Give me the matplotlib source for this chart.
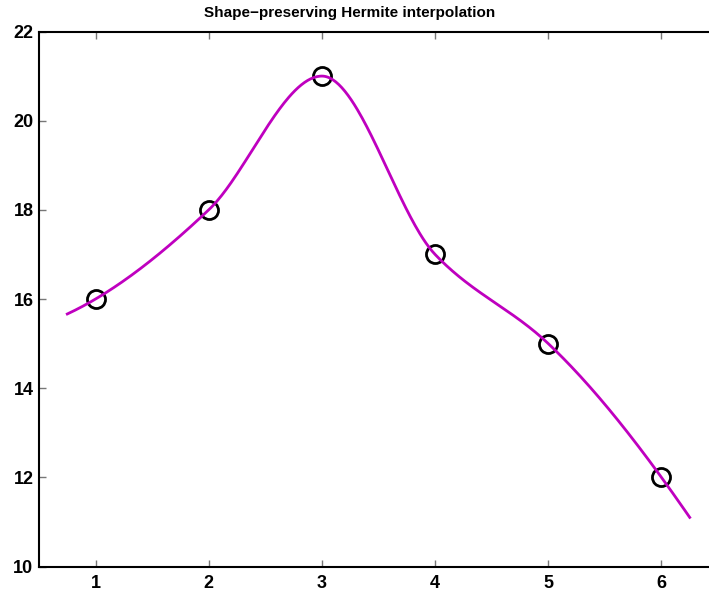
import matplotlib
matplotlib.use('Agg')
import matplotlib.pyplot as plt
import numpy as np

WIDTH = 709
HEIGHT = 595
DPI = 100

TITLE = 'Shape\u2212preserving Hermite interpolation'
x_data = [1, 2, 3, 4, 5, 6]
y_data = [16, 18, 21, 17, 15, 12]
x_ticks = [1, 2, 3, 4, 5, 6]
y_ticks = [10, 12, 14, 16, 18, 20, 22]
X_RANGE = (0.75, 6.25)   # where the curve is evaluated


def pchip_slopes(x, y):
  # MATLAB style pchip derivatives
  h = np.diff(x)
  delta = np.diff(y) / h
  n = len(x)
  d = np.zeros(n)
  for k in range(1, n - 1):
    if delta[k - 1] * delta[k] > 0:
      w1 = 2 * h[k] + h[k - 1]
      w2 = h[k] + 2 * h[k - 1]
      d[k] = (w1 + w2) / (w1 / delta[k - 1] + w2 / delta[k])

  def end_slope(h0, h1, d0, d1):
    s = ((2 * h0 + h1) * d0 - h0 * d1) / (h0 + h1)
    if np.sign(s) != np.sign(d0):
      s = 0.0
    elif np.sign(d0) != np.sign(d1) and abs(s) > abs(3 * d0):
      s = 3 * d0
    return s

  d[0] = end_slope(h[0], h[1], delta[0], delta[1])
  d[-1] = end_slope(h[-1], h[-2], delta[-1], delta[-2])
  return d


def pchip_eval(x, y, xq):
  x = np.asarray(x, float)
  y = np.asarray(y, float)
  d = pchip_slopes(x, y)
  k = np.clip(np.searchsorted(x, xq) - 1, 0, len(x) - 2)
  h = x[k + 1] - x[k]
  t = (xq - x[k]) / h
  h00 = 2 * t**3 - 3 * t**2 + 1
  h10 = t**3 - 2 * t**2 + t
  h01 = -2 * t**3 + 3 * t**2
  h11 = t**3 - t**2
  return h00 * y[k] + h10 * h * d[k] + h01 * y[k + 1] + h11 * h * d[k + 1]


def main():
  plt.rcParams['font.family'] = ['Liberation Sans', 'DejaVu Sans']
  plt.rcParams['font.weight'] = 'bold'

  fig = plt.figure(figsize=(WIDTH / DPI, HEIGHT / DPI), dpi=DPI)
  # axes runs past the right edge like the original
  ax = fig.add_axes([39 / WIDTH, 1 - 566.5 / HEIGHT, 679 / WIDTH, 535 / HEIGHT])

  xq = np.linspace(X_RANGE[0], X_RANGE[1], 400)
  yq = pchip_eval(x_data, y_data, xq)

  ax.plot(x_data, y_data, 'o', ms=13, mfc='none', mec='black', mew=2.0, zorder=2)
  ax.plot(xq, yq, color='#bf00bf', lw=2.0, zorder=3)

  ax.set_xlim(0.5, 6.5)
  ax.set_ylim(10, 22)
  ax.set_xticks(x_ticks)
  ax.set_yticks(y_ticks)
  ax.tick_params(direction='in', length=5, width=1, color='#777777',
                 labelsize=13, top=True, right=False)
  ax.tick_params(axis='x', pad=6)
  ax.tick_params(axis='y', pad=4)
  for lab in ax.get_xticklabels() + ax.get_yticklabels():
    lab.set_fontweight('bold')
  for side in ['left', 'bottom', 'top']:
    ax.spines[side].set_linewidth(1.5)
  ax.spines['right'].set_visible(False)

  # title is centred on the figure, not on the (clipped) axes
  fig.text(349.5 / WIDTH, 1 - 12.5 / HEIGHT, TITLE, fontsize=11,
           fontweight='bold', ha='center', va='center')

  fig.savefig('out.png', dpi=DPI)


if __name__ == '__main__':
  main()
